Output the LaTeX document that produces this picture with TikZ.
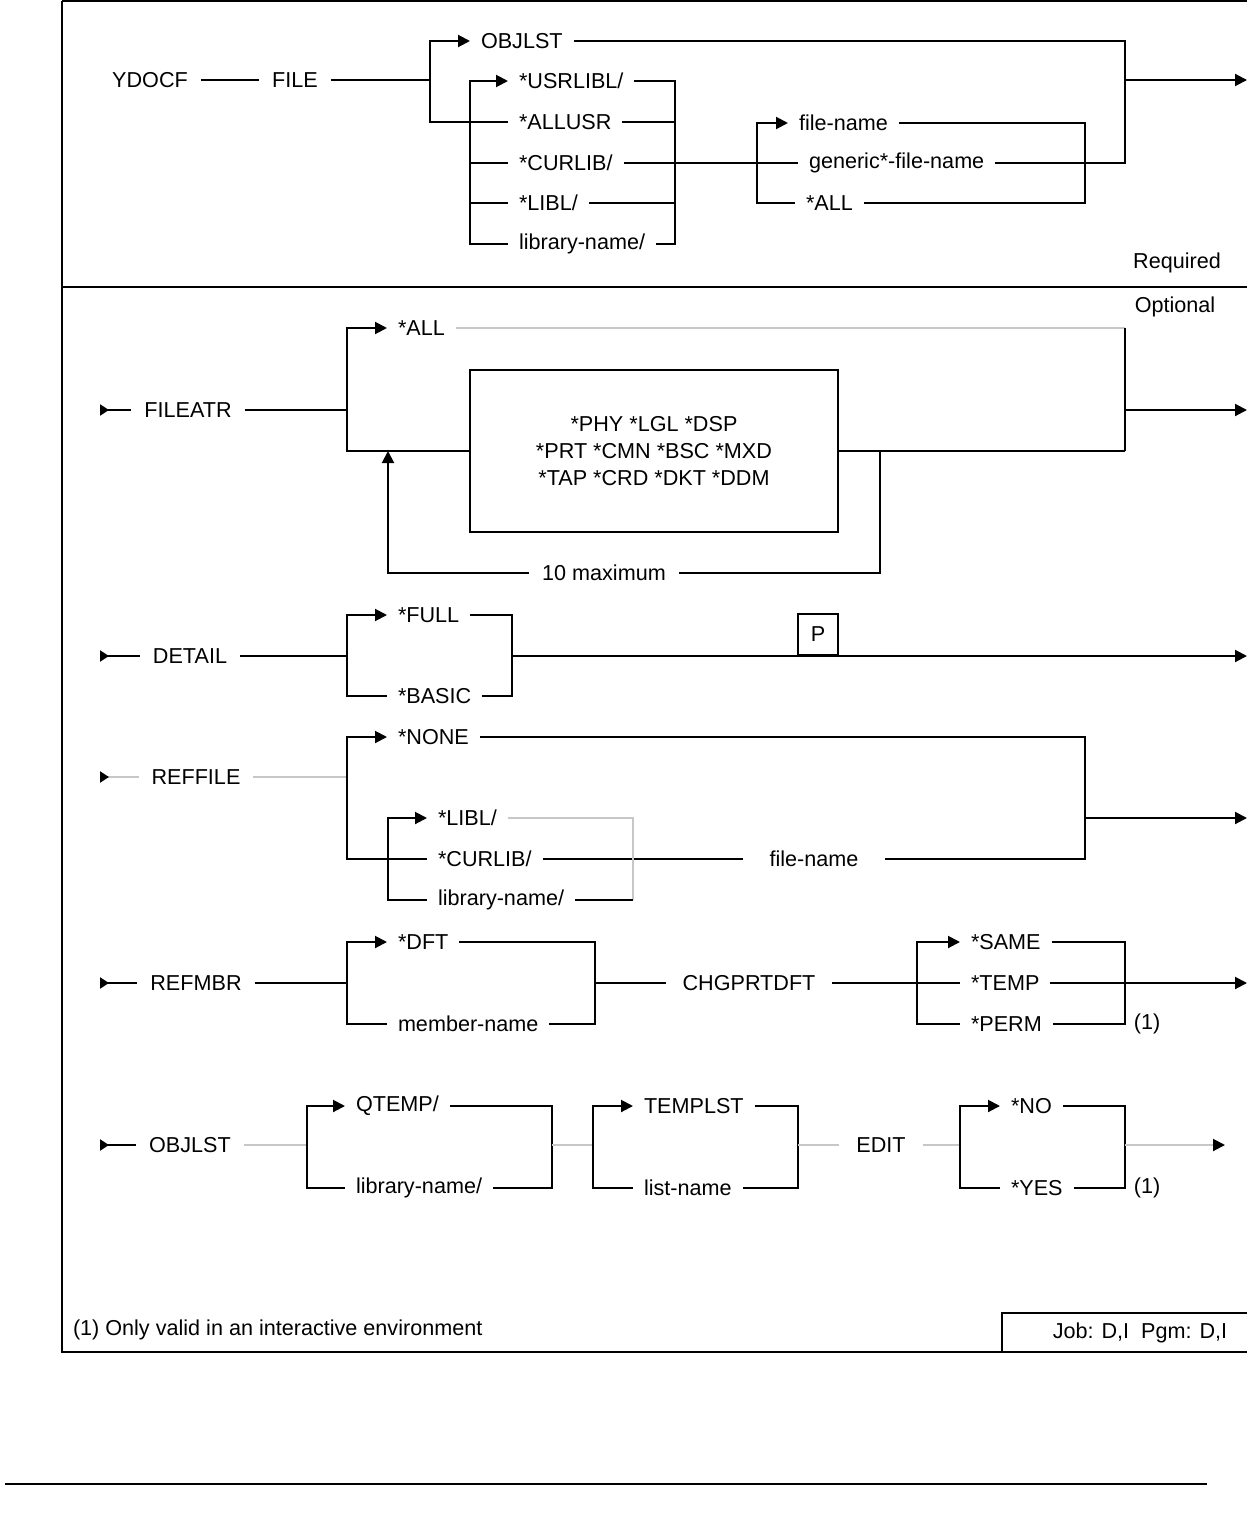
\documentclass[tikz,border=0pt]{standalone}
\usepackage{fontspec}
\setmainfont{Liberation Sans}
\usepackage{tikz}
\usetikzlibrary{arrows.meta, positioning, calc}

\begin{document}
\begin{tikzpicture}[
    x=0.5pt, y=-0.5pt, line width=1pt,
    every node/.style={font=\fontsize{10.8}{13.5}\selectfont},
    kw/.style={inner sep=3pt, inner xsep=6pt},
    opt/.style={anchor=west, inner sep=3pt, inner xsep=5pt, xshift=-2pt},
    faint/.style={draw=black!22},
    arrow/.style={-{Triangle[length=6pt,width=6pt,color=black]}},
    entry/.style={arrows={Triangle[reversed,length=4.5pt,width=5.5pt,color=black]}-}
]
    \useasboundingbox (0,0) rectangle (1247,1536);

    % Frame
    \draw (62,1.5) -- (1247,1.5);
    \draw (62,1.5) -- (62,1352) -- (1247,1352);
    \draw (62,287) -- (1247,287);
    \draw (5,1484) -- (1207,1484);

    % Required part: FILE
    \node[kw] (ydocf) at (150,80) {YDOCF};
    \node[kw] (file) at (295,80) {FILE};
    \node[opt] (objlst1) at (474,41) {OBJLST};
    \node[opt] (usrlibl) at (512,81) {*USRLIBL/};
    \node[opt] (allusr) at (512,122) {*ALLUSR};
    \node[opt] (curlib1) at (512,163) {*CURLIB/};
    \node[opt] (libl1) at (512,203) {*LIBL/};
    \node[opt] (libname1) at (512,244) {library-name/};
    \node[opt] (filename1) at (792,123) {file-name};
    \node[opt] (generic) at (802,163) {generic*-file-name};
    \node[opt] (all1) at (799,203) {*ALL};
    \node (req) at (1177,263) {Required};
    \node (optl) at (1175,307) {Optional};

    \coordinate (j1) at (430,80);
    \coordinate (j2) at (470,163);
    \coordinate (j3) at (675,163);
    \coordinate (j4) at (757,163);
    \coordinate (j5) at (1085,163);
    \coordinate (j6) at (1125,80);
    \coordinate (e1) at (1247,80);

    \draw (ydocf) -- (file);
    \draw (file) -- (j1);
    \draw[arrow] (j1) |- (objlst1);
    \draw (j1) |- (allusr);
    \draw[arrow] (j2) |- (usrlibl);
    \draw (j2) -- (curlib1);
    \draw (j2) |- (libl1);
    \draw (j2) |- (libname1);
    \draw (usrlibl) -| (j3);
    \draw (allusr) -| (j3);
    \draw (libl1) -| (j3);
    \draw (libname1) -| (j3);
    \draw (curlib1) -- (generic);
    \draw[arrow] (j4) |- (filename1);
    \draw (j4) |- (all1);
    \draw (filename1) -| (j5) |- (all1);
    \draw (objlst1) -| (j6) |- (generic);
    \draw[arrow] (j6) -- (e1);

    % FILEATR
    \coordinate (s2) at (100,410);
    \node[kw] (fileatr) at (188,410) {FILEATR};
    \node[opt] (allatr) at (391,328) {*ALL};
    \node[draw, minimum width=184pt, minimum height=81pt, align=center] (attrbox) at (654,451)
        {*PHY *LGL *DSP\\*PRT *CMN *BSC *MXD\\*TAP *CRD *DKT *DDM};
    \node[kw] (maxi) at (604,573) {10 maximum};
    \coordinate (k1) at (347,410);
    \coordinate (k2) at (1125,328);
    \coordinate (k3) at (1125,451);
    \coordinate (k4) at (1125,410);
    \coordinate (e2) at (1247,410);
    \coordinate (r1) at (880,451);
    \coordinate (r2) at (388,451);

    \draw[entry] (s2) -- (fileatr);
    \draw (fileatr) -- (k1);
    \draw[arrow] (k1) |- (allatr);
    \draw[faint] (allatr) -- (k2);
    \draw (k2) -- (k3);
    \draw (k1) |- (attrbox);
    \draw (attrbox) -- (k3);
    \draw[arrow] (k4) -- (e2);
    \draw (r1) |- (maxi);
    \draw[arrow] (maxi) -| (r2);

    % DETAIL
    \coordinate (s3) at (100,656);
    \node[kw] (detail) at (190,656) {DETAIL};
    \node[opt] (full) at (391,615) {*FULL};
    \node[opt] (basic) at (391,696) {*BASIC};
    \node[draw, anchor=south, minimum width=20pt, minimum height=20.5pt, inner sep=0pt] (pbox) at (818,656) {P};
    \coordinate (d1) at (347,656);
    \coordinate (d2) at (512,656);
    \coordinate (e3) at (1247,656);

    \draw[entry] (s3) -- (detail);
    \draw (detail) -- (d1);
    \draw[arrow] (d1) |- (full);
    \draw (d1) |- (basic);
    \draw (full) -| (d2) |- (basic);
    \draw[arrow] (d2) -- (e3);

    % REFFILE
    \coordinate (s4) at (100,777);
    \node[kw] (reffile) at (196,777) {REFFILE};
    \node[opt] (none) at (391,737) {*NONE};
    \node[opt] (libl2) at (431,818) {*LIBL/};
    \node[opt] (curlib2) at (431,859) {*CURLIB/};
    \node[opt] (libname2) at (431,900) {library-name/};
    \node[kw, inner xsep=13pt] (fname2) at (814,859) {file-name};
    \coordinate (g1) at (347,777);
    \coordinate (g2) at (1085,818);
    \coordinate (g3) at (388,859);
    \coordinate (g4) at (633,859);
    \coordinate (g5) at (633,900);
    \coordinate (e4) at (1247,818);

    \draw[entry, faint] (s4) -- (reffile);
    \draw[faint] (reffile) -- (g1);
    \draw[arrow] (g1) |- (none);
    \draw (g1) |- (curlib2);
    \draw (none) -| (g2) |- (fname2);
    \draw[arrow] (g2) -- (e4);
    \draw (curlib2) -- (fname2);
    \draw[arrow] (g3) |- (libl2);
    \draw (g3) |- (libname2);
    \draw[faint] (libl2) -| (g4) -- (g5);
    \draw (libname2) -- (g5);

    % REFMBR
    \coordinate (s5) at (100,983);
    \node[kw] (refmbr) at (196,983) {REFMBR};
    \node[opt] (dft) at (391,942) {*DFT};
    \node[opt] (mbrname) at (391,1024) {member-name};
    \node[kw, inner xsep=8pt] (chgprtdft) at (749,983) {CHGPRTDFT};
    \node[opt] (same) at (964,942) {*SAME};
    \node[opt] (temp) at (964,983) {*TEMP};
    \node[opt] (perm) at (964,1024) {*PERM};
    \node[kw] (note1) at (1147,1024) {(1)};
    \coordinate (m1) at (347,983);
    \coordinate (m2) at (595,983);
    \coordinate (m3) at (917,983);
    \coordinate (m4) at (1125,983);
    \coordinate (e5) at (1247,983);

    \draw[entry] (s5) -- (refmbr);
    \draw (refmbr) -- (m1);
    \draw[arrow] (m1) |- (dft);
    \draw (m1) |- (mbrname);
    \draw (dft) -| (m2) |- (mbrname);
    \draw (m2) -- (chgprtdft);
    \draw (chgprtdft) -- (m3);
    \draw[arrow] (m3) |- (same);
    \draw (m3) -- (temp);
    \draw (m3) |- (perm);
    \draw (same) -| (m4) |- (perm);
    \draw[arrow] (temp) -- (e5);

    % OBJLST
    \coordinate (s6) at (100,1145);
    \node[kw] (objlst2) at (190,1145) {OBJLST};
    \node[opt] (qtemp) at (349,1106) {QTEMP/};
    \node[opt] (libname3) at (349,1188) {library-name/};
    \node[opt] (templst) at (637,1106) {TEMPLST};
    \node[opt] (listname) at (637,1188) {list-name};
    \node[kw, inner xsep=8pt] (edit) at (881,1145) {EDIT};
    \node[opt] (no) at (1004,1106) {*NO};
    \node[opt] (yes) at (1004,1188) {*YES};
    \node[kw] (note2) at (1147,1188) {(1)};
    \coordinate (o1) at (307,1145);
    \coordinate (o2) at (552,1145);
    \coordinate (o3) at (593,1145);
    \coordinate (o4) at (798,1145);
    \coordinate (o5) at (960,1145);
    \coordinate (o6) at (1125,1145);
    \coordinate (e6) at (1225,1145);

    \draw[entry] (s6) -- (objlst2);
    \draw[faint] (objlst2) -- (o1);
    \draw[arrow] (o1) |- (qtemp);
    \draw (o1) |- (libname3);
    \draw (qtemp) -| (o2) |- (libname3);
    \draw[faint] (o2) -- (o3);
    \draw[arrow] (o3) |- (templst);
    \draw (o3) |- (listname);
    \draw (templst) -| (o4) |- (listname);
    \draw[faint] (o4) -- (edit);
    \draw[faint] (edit) -- (o5);
    \draw[arrow] (o5) |- (no);
    \draw (o5) |- (yes);
    \draw (no) -| (o6) |- (yes);
    \draw[faint, arrow] (o6) -- (e6);

    % Footer
    \node[opt] (footnote) at (66,1330) {(1) Only valid in an interactive environment};
    \node[kw] (job) at (1140,1333) {Job: D,I\ \ Pgm: D,I};
    \draw (1002,1352) |- (1247,1313);
\end{tikzpicture}
\end{document}
